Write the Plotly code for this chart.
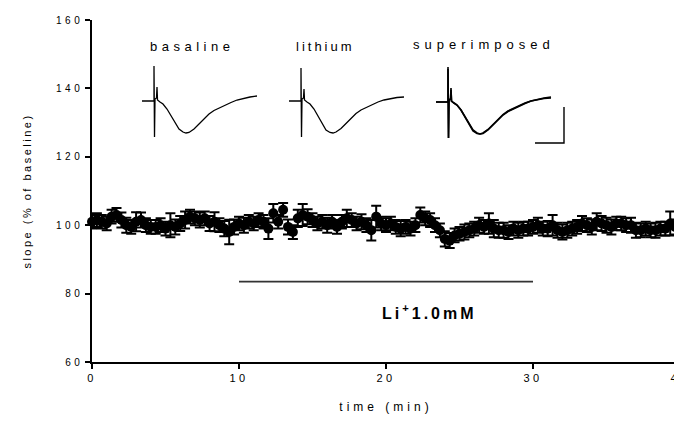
import plotly.graph_objects as go

# ---------------- data ----------------
time_min = [i / 3 for i in range(121)]
slope_pct = [
    101, 101.5, 101,
    100.5, 102.5, 103,
    101.5, 100, 99.5,
    101, 101.5, 100,
    99.5, 99.5, 100,
    99, 100, 99.5,
    100.5, 101.5, 102.5,
    102, 101.5, 102,
    100.5, 101, 100,
    99, 98, 99.5,
    100.5, 100, 101,
    100.5, 101.5, 101,
    99, 103.5, 101,
    104.5, 99.5, 98,
    102, 103, 102.5,
    101.5, 100.5, 101,
    100, 101, 99.5,
    101, 102, 101.5,
    100.5, 101, 100,
    98.5, 102.5, 100.5,
    100, 100.5, 99.5,
    99, 99.5, 99,
    100, 103, 102,
    101.5, 100, 98.5,
    96, 95.5, 97,
    97.5, 98, 98.5,
    99, 100, 99.5,
    100.5, 99, 98.5,
    98.5, 98, 99,
    98.5, 99, 99,
    99.5, 100, 99,
    99, 100, 98.5,
    98, 98.5, 99,
    99.5, 100.5, 100,
    99.5, 101, 100.5,
    100, 99.5, 100.5,
    100.5, 100, 100,
    98.5, 98.5, 99,
    98.5, 98.5, 99,
    99, 100.5, 99.5,
    100.5,
]
slope_sem = [
    2.0, 2.0, 2.0,
    2.0, 2.0, 2.0,
    2.2, 2.2, 2.0,
    2.8, 2.2, 2.0,
    2.0, 2.0, 2.0,
    2.0, 3.5, 2.2,
    2.2, 2.5, 2.0,
    2.0, 2.2, 2.0,
    2.2, 2.8, 2.0,
    2.2, 3.6, 2.2,
    2.0, 2.2, 2.0,
    2.0, 2.0, 2.0,
    3.0, 2.7, 2.0,
    2.0, 2.2, 2.0,
    2.5, 3.2, 2.2,
    2.0, 2.0, 2.0,
    2.2, 2.0, 2.0,
    2.0, 2.5, 2.0,
    2.0, 2.2, 2.0,
    3.0, 3.2, 2.0,
    2.0, 2.0, 2.0,
    2.2, 2.0, 2.0,
    2.0, 2.2, 2.0,
    2.0, 2.0, 2.0,
    2.2, 2.2, 2.0,
    2.0, 2.2, 2.0,
    2.0, 2.2, 2.0,
    3.0, 2.5, 2.2,
    2.2, 2.0, 2.0,
    2.2, 2.0, 2.0,
    2.0, 2.2, 2.0,
    2.2, 3.0, 2.2,
    2.2, 2.2, 2.0,
    2.0, 2.2, 2.0,
    2.2, 2.5, 2.2,
    2.2, 2.2, 2.0,
    2.0, 2.0, 2.2,
    2.2, 2.0, 2.0,
    2.0, 2.2, 2.0,
    2.0, 3.5, 2.2,
    2.0,
]

li_period = [10, 30]
li_level = [83.5, 83.5]

# inset field potential traces (relative units)
trace_t = [0, 12, 12, 12.5, 13, 14.5, 15, 15.5, 18, 21, 25, 29, 33, 37, 41, 44, 47,
           52, 57, 62, 67, 72, 77, 83, 89, 95, 102, 108, 115]
basal_v = [0, 0, 35, -36, 2, 3, 14, 1, -1, -3, -8, -15, -22, -28, -31, -32, -31.5,
           -28, -23, -18, -13, -9.5, -7, -4, -1.5, 1, 3, 4, 5]
lithium_v = [0, 0, 33, -36, 2, 3, 12, 1, -1, -3, -8, -15, -23, -29, -31.5, -32, -31,
             -27.5, -22.5, -17.5, -12.5, -9, -6.5, -3.5, -1, 1, 2.5, 3.5, 4]
scale_t = [128, 128, 99]
scale_v = [-5, -41, -41]

y_ticks = [60, 80, 100, 120, 140, 160]
x_ticks = [0, 10, 20, 30, 40]

FONT = "Liberation Sans, Arial, sans-serif"

# the page body adds an 8 px offset; compensate so the plot area sits at x 92..680, y 20..362
OFF = 8
W, H = 682 - OFF, 430 - OFF
L, R, T, B = 92 - OFF, 2, 20 - OFF, 68


def spaced(s, px=2.5):
    return f'<span style="letter-spacing:{px}px">{s}</span>'


fig = go.Figure()

fig.add_trace(go.Scatter(
    x=time_min, y=slope_pct, mode="markers",
    marker=dict(symbol="circle", size=10, color="black"),
    error_y=dict(type="data", array=slope_sem, color="black", thickness=2, width=5),
    cliponaxis=False, showlegend=False,
))

fig.add_trace(go.Scatter(
    x=li_period, y=li_level, mode="lines",
    line=dict(color="#333333", width=1.6), showlegend=False,
))

# insets
line_style = dict(color="black", width=1.3)
fig.add_trace(go.Scatter(x=trace_t, y=basal_v, mode="lines", line=line_style,
                         xaxis="x2", yaxis="y2", showlegend=False))
fig.add_trace(go.Scatter(x=trace_t, y=lithium_v, mode="lines", line=line_style,
                         xaxis="x3", yaxis="y3", showlegend=False))
fig.add_trace(go.Scatter(x=trace_t, y=basal_v, mode="lines", line=dict(color="black", width=1.6),
                         xaxis="x4", yaxis="y4", showlegend=False))
fig.add_trace(go.Scatter(x=trace_t, y=lithium_v, mode="lines", line=dict(color="black", width=1.6),
                         xaxis="x4", yaxis="y4", showlegend=False))
fig.add_trace(go.Scatter(x=scale_t, y=scale_v, mode="lines", line=dict(color="black", width=1.4),
                         xaxis="x4", yaxis="y4", showlegend=False))

PW, PH = 588.0, 342.0
inset_w = 130 / PW


def inset_domains(start_px, base_px):
    x0 = (start_px - 92) / PW
    yb = (362 - base_px) / PH
    return [x0, x0 + inset_w], [yb - 45 / PH, yb + 40 / PH]


hidden = dict(visible=False, range=[0, 130], fixedrange=True)
hidden_y = dict(visible=False, range=[-45, 40], fixedrange=True)
for i, (sx, by) in zip([2, 3, 4], [(142, 101), (289, 101), (436, 102)]):
    dx, dy = inset_domains(sx, by)
    fig.layout[f"xaxis{i}"] = dict(hidden, domain=dx, anchor=f"y{i}")
    fig.layout[f"yaxis{i}"] = dict(hidden_y, domain=dy, anchor=f"x{i}")


def label(text, cx, cy, size, spacing):
    return dict(text=spaced(text, spacing), x=(cx - 92) / PW, y=(362 - cy) / PH,
                xref="paper", yref="paper", xanchor="center", yanchor="middle",
                showarrow=False, font=dict(size=size))


fig.update_layout(
    width=W, height=H,
    margin=dict(l=L, r=R, t=T, b=B, autoexpand=False),
    paper_bgcolor="white", plot_bgcolor="white",
    font=dict(family=FONT, color="black", size=11),
    xaxis=dict(
        range=[0, 40], tickvals=x_ticks, ticktext=[spaced(str(v), 3.5) for v in x_ticks],
        showline=True, linecolor="black", linewidth=1.5,
        ticks="outside", ticklen=5, tickwidth=1.5, tickcolor="black",
        showgrid=False, zeroline=False, ticklabeloverflow="allow", automargin=False,
        tickfont=dict(size=11, family=FONT),
        title=dict(text=spaced("time (min)", 4), font=dict(size=12), standoff=20),
    ),
    yaxis=dict(
        range=[60, 160], tickvals=y_ticks, ticktext=[spaced(str(v), 3.5) for v in y_ticks],
        showline=True, linecolor="black", linewidth=1.5,
        ticks="outside", ticklen=5, tickwidth=1.5, tickcolor="black",
        showgrid=False, zeroline=False, automargin=False,
        tickfont=dict(size=10, family=FONT),
        title=dict(text=spaced("slope (% of baseline)", 2.5), font=dict(size=11), standoff=22),
    ),
    annotations=[
        label("basaline", 192, 46, 13, 4.5),
        label("lithium", 325, 46, 13, 3),
        label("superimposed", 484, 45, 13, 5),
        label("<b>Li<sup>+</sup>1.0mM</b>", 429, 312, 16, 3),
    ],
)

fig.write_html("out.html")
